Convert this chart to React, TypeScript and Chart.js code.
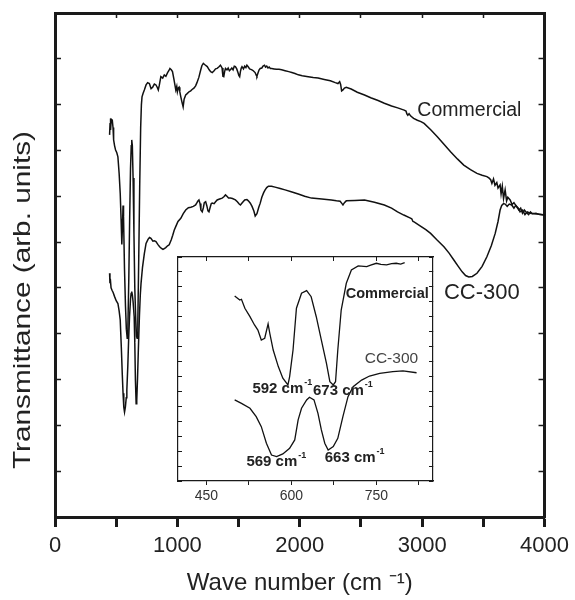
import React, { useEffect, useRef } from "react";
import { Chart, registerables } from "chart.js";

Chart.register(...registerables);

const FONT = "'Liberation Sans', Arial, Helvetica, sans-serif";

// ---------- Main spectrum (wave number, transmittance arb. units) ----------
const commercialWn = [
  446, 450, 452, 456, 460, 468, 474, 479, 487, 495, 505, 514, 524, 533, 540, 546, 552, 556, 560, 568,
  576, 583, 590, 596, 603, 610, 617, 623, 627, 632, 638, 645, 652, 660, 666, 671, 677, 684, 692, 700,
  706, 711, 720, 730, 744, 757, 771, 785, 798, 812, 825, 835, 844, 852, 865, 880, 893, 906, 920, 930,
  939, 950, 960, 972, 987, 995, 1000, 1007, 1014, 1020, 1028, 1038, 1047, 1055, 1068, 1080, 1095, 1109, 1120, 1135,
  1149, 1160, 1176, 1190, 1200, 1212, 1225, 1244, 1260, 1272, 1285, 1300, 1312, 1325, 1338, 1352, 1365, 1372, 1379, 1386,
  1393, 1405, 1415, 1425, 1433, 1445, 1455, 1465, 1474, 1485, 1495, 1502, 1509, 1515, 1522, 1528, 1540, 1550, 1560, 1568,
  1580, 1590, 1600, 1609, 1620, 1635, 1645, 1650, 1660, 1668, 1677, 1690, 1700, 1712, 1720, 1730, 1740, 1750, 1760, 1771,
  1790, 1810, 1830, 1852, 1880, 1910, 1935, 1961, 1988, 2020, 2069, 2110, 2150, 2200, 2250, 2290, 2312, 2326, 2334, 2342,
  2353, 2365, 2380, 2420, 2470, 2529, 2580, 2640, 2691, 2750, 2800, 2853, 2868, 2875, 2883, 2893, 2907, 2930, 2961, 2990,
  3016, 3070, 3124, 3180, 3232, 3290, 3340, 3395, 3448, 3490, 3529, 3545, 3560, 3570, 3583, 3595, 3610, 3620, 3637, 3645,
  3655, 3665, 3678, 3690, 3700, 3719, 3735, 3750, 3773, 3790, 3805, 3820, 3835, 3854, 3870, 3885, 3900, 3930, 3960, 4003,
];
const commercialT = [
  8.34, 8.6, 8.7, 8.45, 8.68, 8.66, 8.5, 8.23, 8.1, 8.01, 7.95, 7.86, 7.5, 7.06, 6.5, 5.95, 6.4, 6.8, 6.55, 5.4,
  4.6, 4.1, 3.9, 4.2, 5.2, 6.5, 7.6, 8.1, 8.23, 8.1, 7.4, 6.2, 5.0, 4.3, 3.95, 3.9, 4.3, 5.6, 7.2, 8.5,
  9.0, 9.17, 9.25, 9.32, 9.43, 9.48, 9.46, 9.35, 9.38, 9.45, 9.43, 9.38, 9.32, 9.42, 9.61, 9.58, 9.65, 9.62, 9.7, 9.74,
  9.79, 9.76, 9.72, 9.55, 9.32, 9.4, 9.28, 9.36, 9.38, 9.28, 9.17, 9.05, 8.95, 9.12, 9.21, 9.24, 9.28, 9.3, 9.33, 9.36,
  9.41, 9.48, 9.6, 9.75, 9.85, 9.9, 9.87, 9.83, 9.76, 9.72, 9.7, 9.74, 9.78, 9.79, 9.82, 9.86, 9.8, 9.62, 9.61, 9.72,
  9.79, 9.76, 9.8, 9.74, 9.76, 9.8, 9.76, 9.84, 9.83, 9.78, 9.7, 9.64, 9.61, 9.72, 9.8, 9.83, 9.78, 9.84, 9.81, 9.86,
  9.82, 9.78, 9.77, 9.76, 9.74, 9.7, 9.64, 9.62, 9.7, 9.76, 9.79, 9.8, 9.84, 9.86, 9.82, 9.84, 9.8, 9.82, 9.79, 9.79,
  9.78, 9.77, 9.77, 9.76, 9.74, 9.72, 9.7, 9.68, 9.65, 9.63, 9.61, 9.59, 9.58, 9.55, 9.52, 9.48, 9.46, 9.5, 9.44, 9.3,
  9.32, 9.36, 9.38, 9.34, 9.27, 9.21, 9.15, 9.09, 9.03, 8.97, 8.93, 8.88, 8.86, 8.8, 8.77, 8.8, 8.75, 8.7, 8.66, 8.63,
  8.59, 8.45, 8.3, 8.13, 7.97, 7.81, 7.68, 7.58, 7.5, 7.46, 7.43, 7.4, 7.36, 7.28, 7.38, 7.24, 7.3, 7.18, 7.25, 7.05,
  7.22, 6.95, 7.14, 6.9, 6.98, 6.92, 6.82, 6.86, 6.77, 6.7, 6.74, 6.63, 6.7, 6.64, 6.6, 6.66, 6.62, 6.63, 6.6, 6.59,
];

const cc300Wn = [
  446, 449, 452, 458, 466, 475, 487, 500, 514, 524, 533, 542, 550, 556, 562, 568, 575, 582, 587, 595,
  602, 609, 617, 622, 627, 632, 638, 647, 652, 657, 663, 668, 674, 681, 690, 697, 703, 715, 730, 744,
  760, 772, 784, 800, 812, 825, 840, 855, 870, 882, 893, 905, 920, 933, 950, 962, 974, 990, 1005, 1028,
  1048, 1068, 1090, 1110, 1130, 1149, 1160, 1168, 1176, 1185, 1192, 1203, 1212, 1220, 1231, 1240, 1250, 1258, 1268, 1277,
  1285, 1300, 1312, 1325, 1345, 1366, 1380, 1393, 1405, 1418, 1433, 1450, 1474, 1490, 1505, 1515, 1530, 1550, 1568, 1580,
  1596, 1610, 1625, 1636, 1650, 1665, 1677, 1690, 1705, 1717, 1730, 1744, 1770, 1798, 1840, 1880, 1930, 1988, 2040, 2096,
  2180, 2258, 2300, 2330, 2345, 2353, 2365, 2380, 2450, 2529, 2610, 2691, 2750, 2799, 2850, 2900, 2915, 2925, 2934, 2980,
  3030, 3069, 3120, 3178, 3220, 3259, 3295, 3327, 3355, 3381, 3410, 3448, 3490, 3529, 3565, 3597, 3620, 3637, 3650, 3665,
  3678, 3695, 3712, 3732, 3750, 3765, 3786, 3800, 3820, 3840, 3860, 3881, 3920, 3960, 4003,
];
const cc300T = [
  5.32, 5.1, 5.2, 5.0, 4.95, 4.9, 4.81, 4.72, 4.66, 4.5, 4.3, 3.7, 3.1, 2.7, 2.4, 2.29, 2.4, 2.6, 2.77, 3.3,
  3.9, 4.37, 4.75, 4.88, 4.92, 4.85, 4.7, 4.37, 3.8, 3.0, 2.47, 2.55, 3.0, 3.64, 4.4, 4.85, 5.1, 5.45, 5.75, 5.97,
  6.06, 6.1, 6.08, 6.02, 6.03, 6.01, 5.95, 5.9, 5.86, 5.84, 5.86, 5.88, 5.92, 5.94, 6.05, 6.15, 6.26, 6.36, 6.45, 6.52,
  6.62, 6.7, 6.75, 6.76, 6.78, 6.81, 6.86, 6.9, 6.92, 6.84, 6.7, 6.66, 6.75, 6.86, 6.88, 6.8, 6.68, 6.66, 6.76, 6.84,
  6.85, 6.84, 6.88, 6.92, 6.94, 6.96, 6.99, 7.03, 7.0, 6.96, 6.96, 6.95, 6.92, 6.88, 6.83, 6.81, 6.86, 6.92, 6.93, 6.9,
  6.85, 6.78, 6.68, 6.57, 6.62, 6.76, 6.85, 6.98, 7.08, 7.14, 7.19, 7.22, 7.22, 7.2, 7.17, 7.14, 7.1, 7.05, 7.0, 6.96,
  6.94, 6.92, 6.9, 6.89, 6.84, 6.81, 6.86, 6.9, 6.91, 6.92, 6.87, 6.81, 6.74, 6.66, 6.59, 6.53, 6.51, 6.45, 6.44, 6.36,
  6.27, 6.19, 6.05, 5.9, 5.76, 5.61, 5.47, 5.35, 5.27, 5.24, 5.25, 5.32, 5.47, 5.68, 5.92, 6.19, 6.45, 6.7, 6.8, 6.84,
  6.83, 6.78, 6.83, 6.81, 6.74, 6.8, 6.74, 6.66, 6.7, 6.6, 6.66, 6.63, 6.62, 6.61, 6.59,
];

// ---------- Inset (400–850 cm-1) ----------
const insetCommercialWn = [
  500, 509, 512, 518, 527, 535, 541, 547, 553, 559, 562, 568, 577, 585, 594, 597, 603, 609, 618, 627,
  635, 644, 653, 662, 668, 674, 678, 682, 688, 697, 706, 718, 733, 740, 750, 758, 768, 777, 785, 793, 800,
];
const insetCommercialT = [
  12.39, 12.12, 12.17, 11.57, 11.01, 10.45, 10.11, 9.44, 9.56, 10.52, 9.89, 8.77, 7.66, 6.88, 6.43, 6.99, 8.77, 11.57, 12.57, 12.75,
  12.34, 11.0, 9.44, 7.88, 6.65, 6.43, 6.65, 8.77, 11.45, 13.24, 14.13, 14.4, 14.35, 14.45, 14.58, 14.5, 14.47, 14.55, 14.58, 14.52, 14.62,
];
const insetCC300Wn = [
  500, 512, 527, 538, 547, 556, 565, 574, 585, 597, 606, 612, 618, 627, 632, 640, 647, 653, 659, 665,
  674, 682, 691, 700, 709, 724, 738, 756, 779, 797, 821,
];
const insetCC300T = [
  5.43, 5.2, 4.87, 4.31, 3.64, 2.53, 1.74, 1.63, 1.81, 2.19, 2.75, 4.09, 4.87, 5.43, 5.61, 5.43, 4.53, 3.42, 2.53, 2.08,
  2.3, 2.86, 4.31, 5.65, 6.32, 6.76, 7.03, 7.21, 7.32, 7.37, 7.25,
];

const mainTickValues = [0, 1000, 2000, 3000, 4000];
const insetTickValues = [450, 600, 750];
const yTitle = "Transmittance (arb. units)";

type Note = { text: string; sup?: string; x: number; y: number; size: number; weight?: string; color: string };

const mainNotes: Note[] = [
  { text: "Commercial", x: 2961, y: 8.87, size: 19.5, color: "#222" },
  { text: "CC-300", x: 3178, y: 4.89, size: 22, color: "#222" },
];
const insetNotes: Note[] = [
  { text: "Commercial", x: 696, y: 12.53, size: 14.5, weight: "bold", color: "#222" },
  { text: "CC-300", x: 729.5, y: 8.22, size: 15.5, color: "#444" },
  { text: "592 cm", sup: "-1", x: 531.3, y: 6.16, size: 15, weight: "bold", color: "#222" },
  { text: "673 cm", sup: "-1", x: 638.2, y: 6.05, size: 15, weight: "bold", color: "#222" },
  { text: "569 cm", sup: "-1", x: 520.7, y: 1.29, size: 15, weight: "bold", color: "#222" },
  { text: "663 cm", sup: "-1", x: 658.9, y: 1.54, size: 15, weight: "bold", color: "#222" },
];

function notesPlugin(id: string, notes: Note[]) {
  return {
    id,
    afterDatasetsDraw(chart: any) {
      const ctx = chart.ctx;
      const xs = chart.scales.x;
      const ys = chart.scales.y;
      for (const n of notes) {
        const px = xs.getPixelForValue(n.x);
        const py = ys.getPixelForValue(n.y);
        const w = n.weight || "normal";
        ctx.save();
        ctx.fillStyle = n.color;
        ctx.textAlign = "left";
        ctx.textBaseline = "middle";
        ctx.font = `${w} ${n.size}px ${FONT}`;
        ctx.fillText(n.text, px, py);
        if (n.sup) {
          const tw = ctx.measureText(n.text).width;
          ctx.font = `${w} ${Math.round(n.size * 0.62)}px ${FONT}`;
          ctx.fillText(n.sup, px + tw + 1, py - n.size * 0.42);
        }
        ctx.restore();
      }
    },
  };
}

// vertical axis title, drawn rotated next to the left axis
const yTitlePlugin = {
  id: "yTitle",
  afterDraw(chart: any) {
    const ctx = chart.ctx;
    ctx.save();
    ctx.translate(23, 300);
    ctx.rotate(-Math.PI / 2);
    ctx.scale(1.24, 1);
    ctx.font = `24px ${FONT}`;
    ctx.fillStyle = "#222";
    ctx.textAlign = "center";
    ctx.textBaseline = "middle";
    ctx.fillText(yTitle, 0, 0);
    ctx.restore();
  },
};

const pts = (xs: number[], ys: number[]) => xs.map((x, i) => ({ x, y: ys[i] }));

const lineDs = (data: any[], width: number) => ({
  data,
  borderColor: "#111",
  borderWidth: width,
  pointRadius: 0,
  tension: 0,
  fill: false,
});

export default function App() {
  const mainRef = useRef<HTMLCanvasElement | null>(null);
  const insetRef = useRef<HTMLCanvasElement | null>(null);

  useEffect(() => {
    Chart.defaults.font.family = FONT;
    const ink = "#1a1a1a";

    const main = new Chart(mainRef.current!, {
      type: "line",
      data: {
        datasets: [
          lineDs(pts(commercialWn, commercialT), 1.5),
          lineDs(pts(cc300Wn, cc300T), 1.5),
        ],
      },
      options: {
        animation: false,
        responsive: false,
        maintainAspectRatio: false,
        layout: { padding: { top: 13, right: 27, left: 0, bottom: 0 } },
        plugins: { legend: { display: false }, tooltip: { enabled: false } },
        scales: {
          x: {
            type: "linear",
            position: "bottom",
            min: 0,
            max: 4000,
            afterBuildTicks: (s: any) => {
              const arr: any[] = [];
              for (let v = 0; v <= 4000; v += 500) arr.push({ value: v });
              s.ticks = arr;
            },
            ticks: {
              autoSkip: false,
              maxRotation: 0,
              padding: 6,
              color: "#222",
              font: { size: 22 },
              callback: (v: any) => (mainTickValues.includes(Number(v)) ? String(v) : ""),
            },
            grid: { drawOnChartArea: false, tickLength: 10, tickWidth: 3, tickColor: ink },
            border: { width: 3, color: ink },
            title: {
              display: true,
              text: "Wave number (cm \u207B\u00B9)",
              color: "#222",
              font: { size: 24 },
              padding: { top: 0, bottom: 2 },
            },
            afterFit: (s: any) => {
              s.height = 83;
            },
          },
          xTop: {
            type: "linear",
            position: "top",
            min: 0,
            max: 4000,
            ticks: { display: false, stepSize: 500 },
            grid: { drawOnChartArea: false, tickLength: -5, tickWidth: 1.5, tickColor: ink },
            border: { width: 3, color: ink },
            afterFit: (s: any) => {
              s.height = 0;
            },
          },
          y: {
            type: "linear",
            position: "left",
            min: 0,
            max: 11,
            ticks: { display: false, stepSize: 1 },
            grid: { drawOnChartArea: false, tickLength: -6, tickWidth: 1.5, tickColor: ink },
            border: { width: 3, color: ink },
            afterFit: (s: any) => {
              s.width = 55;
            },
          },
          yRight: {
            type: "linear",
            position: "right",
            min: 0,
            max: 11,
            ticks: { display: false, stepSize: 1 },
            grid: { drawOnChartArea: false, tickLength: -6, tickWidth: 1.5, tickColor: ink },
            border: { width: 3, color: ink },
            afterFit: (s: any) => {
              s.width = 0;
            },
          },
        },
      } as any,
      plugins: [notesPlugin("mainNotes", mainNotes), yTitlePlugin],
    });

    const inset = new Chart(insetRef.current!, {
      type: "line",
      data: {
        datasets: [
          lineDs(pts(insetCommercialWn, insetCommercialT), 1.3),
          lineDs(pts(insetCC300Wn, insetCC300T), 1.3),
        ],
      },
      options: {
        animation: false,
        responsive: false,
        maintainAspectRatio: false,
        layout: { padding: { top: 7, right: 12, left: 0, bottom: 0 } },
        plugins: { legend: { display: false }, tooltip: { enabled: false } },
        scales: {
          x: {
            type: "linear",
            position: "bottom",
            min: 400,
            max: 850,
            afterBuildTicks: (s: any) => {
              const arr: any[] = [];
              for (let v = 450; v <= 850; v += 75) arr.push({ value: v });
              s.ticks = arr;
            },
            ticks: {
              autoSkip: false,
              maxRotation: 0,
              padding: 3,
              color: "#333",
              font: { size: 14 },
              callback: (v: any) => (insetTickValues.includes(Number(v)) ? String(v) : ""),
            },
            grid: { drawOnChartArea: false, tickLength: 4, tickWidth: 1, tickColor: ink },
            border: { width: 1.2, color: ink },
            afterFit: (s: any) => {
              s.height = 31;
            },
          },
          xTop: {
            type: "linear",
            position: "top",
            min: 400,
            max: 850,
            afterBuildTicks: (s: any) => {
              const arr: any[] = [];
              for (let v = 450; v <= 850; v += 75) arr.push({ value: v });
              s.ticks = arr;
            },
            ticks: { display: false },
            grid: { drawOnChartArea: false, tickLength: -4, tickWidth: 1, tickColor: ink },
            border: { width: 1.2, color: ink },
            afterFit: (s: any) => {
              s.height = 0;
            },
          },
          y: {
            type: "linear",
            position: "left",
            min: 0,
            max: 15,
            ticks: { display: false, stepSize: 1 },
            grid: { drawOnChartArea: false, tickLength: -4, tickWidth: 1, tickColor: ink },
            border: { width: 1.2, color: ink },
            afterFit: (s: any) => {
              s.width = 8;
            },
          },
          yRight: {
            type: "linear",
            position: "right",
            min: 0,
            max: 15,
            ticks: { display: false, stepSize: 1 },
            grid: { drawOnChartArea: false, tickLength: -4, tickWidth: 1, tickColor: ink },
            border: { width: 1.2, color: ink },
            afterFit: (s: any) => {
              s.width = 0;
            },
          },
        },
      } as any,
      plugins: [notesPlugin("insetNotes", insetNotes)],
    });

    return () => {
      main.destroy();
      inset.destroy();
    };
  }, []);

  return (
    <div style={{ position: "absolute", left: 0, top: 0, width: 575, height: 600, background: "#fff" }}>
      <canvas
        ref={mainRef}
        width={575}
        height={600}
        style={{ position: "absolute", left: 0, top: 0, width: 575, height: 600 }}
      />
      <canvas
        ref={insetRef}
        width={275}
        height={262}
        style={{ position: "absolute", left: 170, top: 250, width: 275, height: 262 }}
      />
    </div>
  );
}
